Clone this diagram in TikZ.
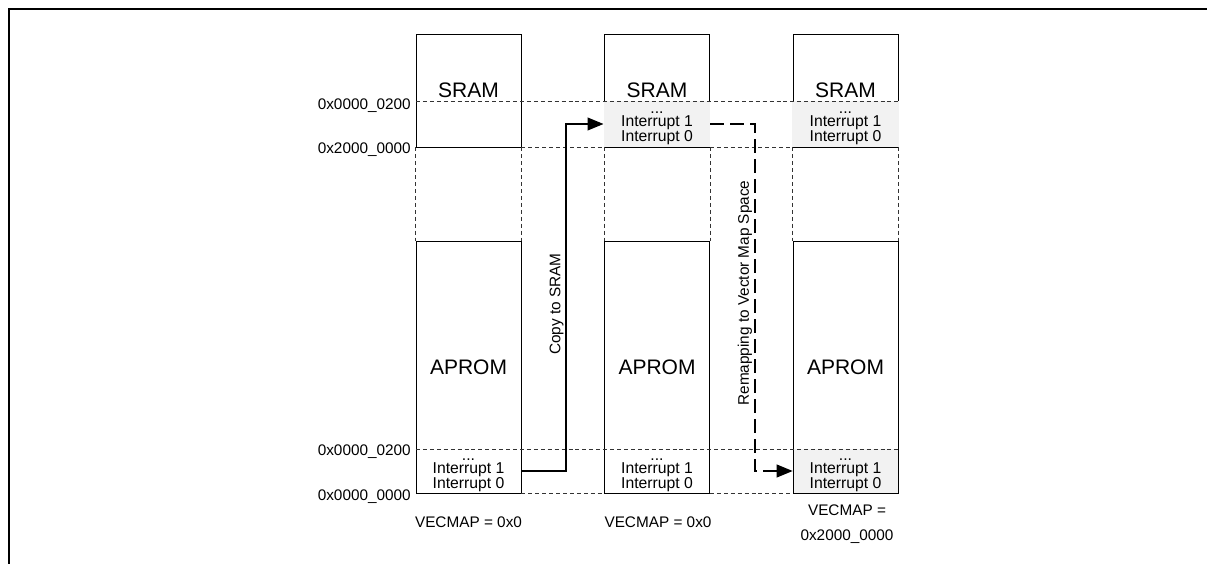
\documentclass[tikz,border=0pt]{standalone}
\usepackage{fontspec}
\setmainfont{Liberation Sans}
\usetikzlibrary{arrows.meta}
\definecolor{vecfill}{HTML}{F2F2F2}
\tikzset{
  memblk/.style = {
    draw, line width=0.6pt,
    minimum width=78.75pt, inner sep=0pt,
    font=\fontsize{15.75}{18}\selectfont
  },
  vectab/.style = {
    minimum width=78.75pt, minimum height=33pt, inner sep=0pt, align=center,
    font=\fontsize{11.8}{9.6}\selectfont % three tight lines
  },
  vecon/.style  = {vectab, fill=vecfill},
  guide/.style  = {draw=black!80, line width=0.6pt, dash pattern=on 3pt off 2.2pt},
  addr/.style   = {anchor=east, inner sep=0pt, font=\fontsize{11.5}{14}\selectfont},
  lbl/.style    = {inner sep=0pt, align=center, font=\fontsize{11.5}{18.75}\selectfont},
  copyline/.style  = {line width=1.4pt, -{Triangle[length=12pt,width=9.5pt]}},
  remapline/.style = {copyline, dash pattern=on 10pt off 5pt}
}

\begin{document}
\begin{tikzpicture}[x=0.75pt,y=-0.75pt]
\useasboundingbox (0,0) rectangle (1207,564);
\draw[line width=2pt] (9,564) -- (9,9) -- (1207,9); % open frame

% vector tables at the bottom of APROM
\node[vectab] (vbot1) at (468.5,471) {\vphantom{I}...\\Interrupt 1\\Interrupt 0};
\node[vectab] (vbot2) at (657,471)   {\vphantom{I}...\\Interrupt 1\\Interrupt 0};
\node[vecon]  (vbot3) at (845.5,471) {\vphantom{I}...\\Interrupt 1\\Interrupt 0};

% memory blocks
\node[memblk, minimum height=84.75pt] (sram1) at (468.5,90.5) {SRAM};
\node[memblk, minimum height=84.75pt] (sram2) at (657,90.5)   {SRAM};
\node[memblk, minimum height=84.75pt] (sram3) at (845.5,90.5) {SRAM};
\node[memblk, minimum height=189pt] (aprom1) at (468.5,367) {APROM};
\node[memblk, minimum height=189pt] (aprom2) at (657,367)   {APROM};
\node[memblk, minimum height=189pt] (aprom3) at (845.5,367) {APROM};

% copied vector tables in SRAM (cover the lower box edges)
\node[vecon, minimum width=79.75pt, minimum height=35.1pt] (vtop2) at (657,124)
  {\vphantom{I}...\\Interrupt 1\\Interrupt 0};
\node[vecon, minimum width=79.75pt, minimum height=35.1pt] (vtop3) at (845.5,124)
  {\vphantom{I}...\\Interrupt 1\\Interrupt 0};

% address guides
\draw[guide] (416,101) -- (898,101);
\draw[guide] (416,449) -- (898,449);
\draw[guide] (sram1.south east) -- (sram2.south west);
\draw[guide] (sram2.south east) -- (sram3.south west);
\draw[guide] (aprom1.south east) -- (aprom2.south west);
\draw[guide] (aprom2.south east) -- (aprom3.south west);
\draw[guide] (sram1.south west) -- (aprom1.north west);
\draw[guide] (sram1.south east) -- (aprom1.north east);
\draw[guide] (sram2.south west) -- (aprom2.north west);
\draw[guide] (sram2.south east) -- (aprom2.north east);
\draw[guide] (sram3.south west) -- (aprom3.north west);
\draw[guide] (sram3.south east) -- (aprom3.north east);

\node[addr] (atop200) at (411,106) {0x0000\_0200};
\node[addr] (a2000)   at (411,149.3) {0x2000\_0000};
\node[addr] (abot200) at (411,451.3) {0x0000\_0200};
\node[addr] (a0000)   at (411,497) {0x0000\_0000};

% copy and remap steps
\coordinate (copyx) at (566,0);
\coordinate (remapx) at (755,0);
\draw[copyline] (vbot1.east) -- (vbot1.east -| copyx) |- (vtop2.west);
\draw[remapline] (vtop2.east) -- (vtop2.east -| remapx) |- (vbot3.west);
\node[lbl, rotate=90] (copylbl)  at (556.5,304) {Copy to SRAM};
\node[lbl, rotate=90] (remaplbl) at (745,293)   {Remapping to Vector Map Space};

\node[lbl] (vm1) at (468.5,522) {VECMAP = 0x0};
\node[lbl] (vm2) at (658,522)   {VECMAP = 0x0};
\node[lbl] (vm3) at (847,524.2) {VECMAP =\\0x2000\_0000};
\end{tikzpicture}
\end{document}
